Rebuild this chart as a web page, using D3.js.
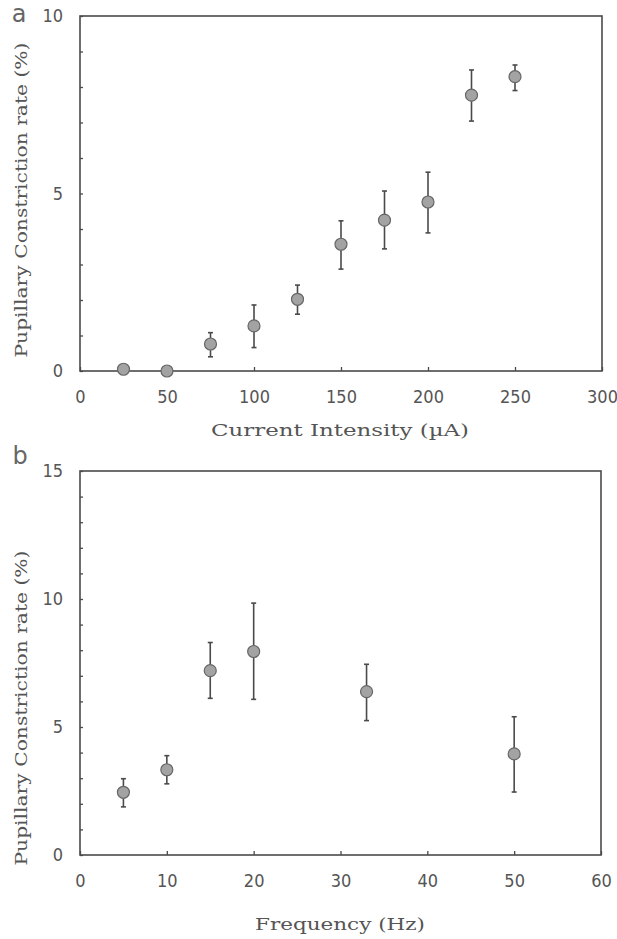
<!DOCTYPE html>
<html><head><meta charset="utf-8">
<script src="https://cdn.jsdelivr.net/npm/d3@7"></script>
<style>body{margin:0;background:#fff}svg{display:block}</style>
</head><body>
<svg id="c" width="617" height="939"></svg>
<script>
// Panel a data
const currentX = [25, 50, 75, 100, 125, 150, 175, 200, 225, 250];
const currentY = [0.05, 0.0, 0.76, 1.27, 2.02, 3.57, 4.25, 4.76, 7.77, 8.29];
const currentLo = [0.0, 0.0, 0.40, 0.66, 1.60, 2.87, 3.44, 3.89, 7.04, 7.90];
const currentHi = [0.08, 0.05, 1.08, 1.86, 2.42, 4.23, 5.07, 5.60, 8.48, 8.62];
const currentTicksX = [0, 50, 100, 150, 200, 250, 300];
const currentTicksY = [0, 5, 10];
// Panel b data
const freqX = [5, 10, 15, 20, 33, 50];
const freqY = [2.45, 3.33, 7.2, 7.95, 6.38, 3.95];
const freqLo = [1.88, 2.78, 6.12, 6.08, 5.25, 2.46];
const freqHi = [2.98, 3.88, 8.3, 9.84, 7.45, 5.4];
const freqTicksX = [0, 10, 20, 30, 40, 50, 60];
const freqTicksY = [0, 5, 10, 15];

const svg = d3.select('#c');
const ink = '#4a4a4a';
const tickFont = '"DejaVu Sans Condensed","DejaVu Sans",sans-serif';
const titleFont = '"DejaVu Serif","Liberation Serif",serif';

function panel(o) {
  const x = d3.scaleLinear().domain(o.xd).range([o.l, o.r]);
  const y = d3.scaleLinear().domain(o.yd).range([o.b, o.t]);
  const g = svg.append('g');
  g.append('rect').attr('x', o.l).attr('y', o.t).attr('width', o.r - o.l).attr('height', o.b - o.t)
    .attr('fill', 'none').attr('stroke', ink).attr('stroke-width', 1.6);
  const ya = d3.axisLeft(y).tickValues(d3.range(o.yd[0], o.yd[1] + 1, 1)).tickSize(-3).tickFormat('');
  g.append('g').attr('transform', `translate(${o.l},0)`).call(ya)
    .call(s => { s.select('.domain').remove(); s.selectAll('line').attr('stroke', ink).attr('stroke-width', 1.3); });
  const yl = d3.axisLeft(y).tickValues(o.yt).tickSize(0).tickPadding(17).tickFormat(d3.format('d'));
  g.append('g').attr('transform', `translate(${o.l},0)`).call(yl)
    .call(s => { s.select('.domain').remove(); s.selectAll('text').attr('font-family', tickFont).attr('font-size', 18).attr('fill', '#555'); });
  const xa = d3.axisBottom(x).tickValues(o.xt).tickSize(-4).tickPadding(19).tickFormat(d3.format('d'));
  g.append('g').attr('transform', `translate(0,${o.b})`).call(xa)
    .call(s => { s.select('.domain').remove(); s.selectAll('line').attr('stroke', ink).attr('stroke-width', 1.3);
      s.selectAll('text').attr('font-family', tickFont).attr('font-size', 18).attr('fill', '#555'); });
  const pts = o.xs.map((v, i) => ({x: v, y: o.ys[i], lo: o.lo[i], hi: o.hi[i]}));
  const eb = g.append('g').selectAll('g').data(pts).join('g');
  eb.append('line').attr('x1', d => x(d.x)).attr('x2', d => x(d.x)).attr('y1', d => y(d.lo)).attr('y2', d => y(d.hi))
    .attr('stroke', ink).attr('stroke-width', 1.6);
  eb.append('line').attr('x1', d => x(d.x) - 2.5).attr('x2', d => x(d.x) + 2.5).attr('y1', d => y(d.lo)).attr('y2', d => y(d.lo))
    .attr('stroke', ink).attr('stroke-width', 1.6);
  eb.append('line').attr('x1', d => x(d.x) - 2.5).attr('x2', d => x(d.x) + 2.5).attr('y1', d => y(d.hi)).attr('y2', d => y(d.hi))
    .attr('stroke', ink).attr('stroke-width', 1.6);
  g.append('g').selectAll('circle').data(pts).join('circle')
    .attr('cx', d => x(d.x)).attr('cy', d => y(d.y)).attr('r', 6)
    .attr('fill', '#a3a3a3').attr('stroke', '#666').attr('stroke-width', 1.2);
  g.append('text').attr('x', o.lx).attr('y', o.ly).attr('text-anchor', 'middle')
    .attr('font-family', titleFont).attr('font-size', 17).attr('fill', '#555')
    .attr('textLength', o.lw).attr('lengthAdjust', 'spacingAndGlyphs').text(o.xlabel);
  g.append('text').attr('transform', `translate(${o.yx},${o.yy}) rotate(-90)`).attr('text-anchor', 'middle')
    .attr('font-family', titleFont).attr('font-size', 17).attr('fill', '#555')
    .attr('textLength', 315).attr('lengthAdjust', 'spacingAndGlyphs').text('Pupillary Constriction rate (%)');
  g.append('text').attr('x', o.px).attr('y', o.py).attr('text-anchor', 'middle')
    .attr('font-family', '"DejaVu Sans",sans-serif').attr('font-size', 24).attr('fill', '#666').text(o.letter);
}

panel({xd: [0, 300], yd: [0, 10], l: 80, r: 602, t: 16, b: 371,
  xs: currentX, ys: currentY, lo: currentLo, hi: currentHi, xt: currentTicksX, yt: currentTicksY,
  xlabel: 'Current Intensity (\u00b5A)', lw: 258, lx: 340, ly: 436, yx: 27, yy: 200, letter: 'a', px: 19, py: 22});
panel({xd: [0, 60], yd: [0, 15], l: 80, r: 601, t: 471, b: 855,
  xs: freqX, ys: freqY, lo: freqLo, hi: freqHi, xt: freqTicksX, yt: freqTicksY,
  xlabel: 'Frequency (Hz)', lw: 170, lx: 340, ly: 930, yx: 27, yy: 708, letter: 'b', px: 20, py: 464});
</script>
</body></html>
